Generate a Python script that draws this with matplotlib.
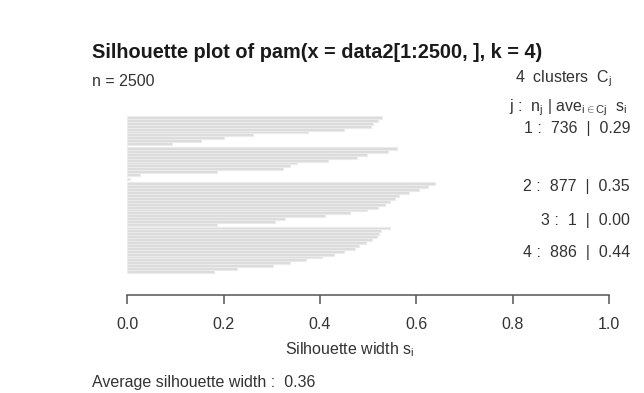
import numpy as np
import matplotlib
matplotlib.use('Agg')
import matplotlib.pyplot as plt

plt.rcParams['font.family'] = ['Liberation Sans', 'DejaVu Sans']
plt.rcParams['mathtext.fontset'] = 'custom'
plt.rcParams['mathtext.rm'] = 'Liberation Sans'
plt.rcParams['mathtext.it'] = 'Liberation Sans:italic'

# silhouette widths, top to bottom
seg_a = [0.528, 0.52, 0.51, 0.505, 0.45, 0.375, 0.26, 0.2, 0.152, 0.093]
seg_b = [0.559, 0.541, 0.497, 0.476, 0.417, 0.352, 0.338, 0.323, 0.186, 0.026]
seg_c = [0.006]
seg_d = [0.639, 0.625, 0.605, 0.585, 0.565, 0.556, 0.545, 0.535, 0.52, 0.497,
         0.462, 0.41, 0.327, 0.307, 0.186]
seg_e = [0.545, 0.527, 0.522, 0.518, 0.507, 0.495, 0.482, 0.472, 0.45, 0.43,
         0.405, 0.37, 0.338, 0.303, 0.227, 0.18]

cluster_ids = [1, 2, 3, 4]
cluster_n = [736, 877, 1, 886]
cluster_avg = [0.29, 0.35, 0.00, 0.44]
n_total = 2500
avg_width = 0.36
xticks = [0.0, 0.2, 0.4, 0.6, 0.8, 1.0]

W, H = 644, 393
fig = plt.figure(figsize=(W / 100, H / 100), dpi=100)

def fx(px):
    return px / W

def fy(py):
    return 1 - py / H

# axes: x 0..1 spans px 127..609, top of bars at 116, axis line at 295
ax = fig.add_axes([fx(127.3), fy(295), fx(609) - fx(127.3), fy(116) - fy(295)])

segs = [seg_a, seg_b, seg_c, seg_d, seg_e]
gaps = [0.7, 0.5, 0.7, 0.2]
ypos, vals = [], []
y = 0.5
for k, s in enumerate(segs):
    for v in s:
        ypos.append(y)
        vals.append(v)
        y += 1
    if k < len(gaps):
        y += gaps[k]
total = y - 0.5

ax.barh(ypos, vals, height=1.0, color='#dcdcdc', edgecolor='#ebebeb', linewidth=0.8)
ax.set_xlim(0, 1)
ax.set_ylim(total * 179 / 157, 0)
for sp in ['top', 'left', 'right']:
    ax.spines[sp].set_visible(False)
ax.spines['bottom'].set_color('#555555')
ax.spines['bottom'].set_linewidth(1.1)
ax.set_yticks([])
ax.set_xticks(xticks)
ax.set_xticklabels(['%.1f' % t for t in xticks])
ax.tick_params(axis='x', direction='out', length=6.5, width=1.1, color='#555555',
               labelsize=11.5, labelcolor='#333333', pad=9.5)

txt = '#333333'
fs = 11.5
fig.text(fx(92), fy(52), 'Silhouette plot of pam(x = data2[1:2500, ], k = 4)',
         fontsize=14.3, fontweight='bold', color='#1a1a1a', va='center', ha='left')
fig.text(fx(92), fy(82), 'n = %d' % n_total, fontsize=fs, color=txt, va='center')
fig.text(fx(612), fy(79), '%d  clusters  $\\mathrm{C_j}$' % len(cluster_ids),
         fontsize=fs, color=txt, va='center', ha='right')
fig.text(fx(627), fy(108), 'j :  $\\mathrm{n_j}$ | $\\mathrm{ave_{i \\in Cj}}$  $\\mathrm{s_i}$',
         fontsize=fs, color=txt, va='center', ha='right')

label_y = [128, 187, 220, 253]
for cid, n, a, ly in zip(cluster_ids, cluster_n, cluster_avg, label_y):
    fig.text(fx(630), fy(ly), '%d :  %d  |  %.2f' % (cid, n, a),
             fontsize=fs, color=txt, va='center', ha='right')

fig.text(fx(350), fy(350), 'Silhouette width $\\mathrm{s_i}$', fontsize=fs,
         color=txt, va='center', ha='center')
fig.text(fx(92), fy(382), 'Average silhouette width :  %.2f' % avg_width,
         fontsize=fs, color=txt, va='center', ha='left')

fig.savefig('out.png', dpi=100)
